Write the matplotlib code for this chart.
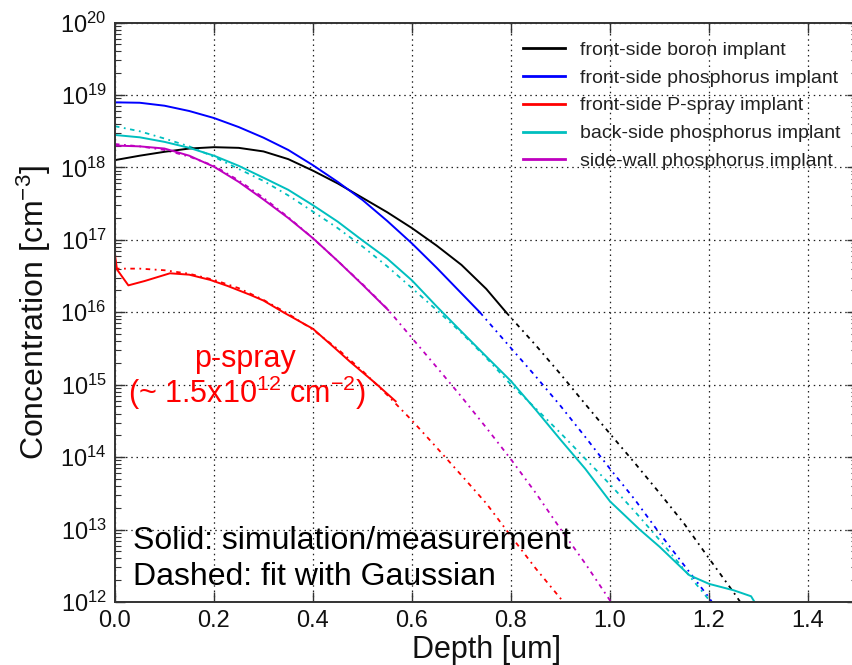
import matplotlib
matplotlib.use("Agg")
import matplotlib.pyplot as plt
from matplotlib.ticker import LogLocator, FixedLocator

plt.rcParams["font.family"] = ["Liberation Sans", "DejaVu Sans"]
plt.rcParams["mathtext.default"] = "regular"
plt.rcParams["mathtext.fontset"] = "custom"
plt.rcParams["mathtext.rm"] = "Liberation Sans"
plt.rcParams["mathtext.it"] = "Liberation Sans:italic"

# ---- data: depth [um] and concentration [cm^-3] ----
labels = [
    "front-side boron implant",
    "front-side phosphorus implant",
    "front-side P-spray implant",
    "back-side phosphorus implant",
    "side-wall phosphorus implant",
]
colors = ["#000000", "#0000ff", "#ff0000", "#00bfbf", "#bf00bf"]

boron_x = [0, 0.05, 0.1, 0.15, 0.2, 0.25, 0.3, 0.35, 0.4, 0.45, 0.5, 0.55, 0.6, 0.65, 0.7, 0.75, 0.79]
boron_sim = [1.26e18, 1.45e18, 1.64e18, 1.82e18, 1.9e18, 1.86e18, 1.66e18, 1.3e18, 9.0e17, 6.0e17,
             3.8e17, 2.4e17, 1.45e17, 8.3e16, 4.5e16, 2.1e16, 1.0e16]
boron_fit_x = [0.79, 0.85, 0.9, 0.95, 1.0, 1.05, 1.1, 1.15, 1.2, 1.25, 1.28]
boron_fit = [1.0e16, 3.5e15, 1.4e15, 5.4e14, 2.1e14, 8.3e13, 3.2e13, 1.2e13, 4.0e12, 1.35e12, 6.8e11]

phos_x = [0, 0.05, 0.1, 0.15, 0.2, 0.25, 0.3, 0.35, 0.4, 0.45, 0.5, 0.55, 0.6, 0.65, 0.7, 0.737]
phos_sim = [7.9e18, 7.8e18, 7.1e18, 6.0e18, 4.8e18, 3.6e18, 2.57e18, 1.74e18, 1.07e18, 6.3e17,
            3.55e17, 1.82e17, 8.9e16, 4.1e16, 1.82e16, 1.0e16]
phos_fit_x = [0.737, 0.8, 0.85, 0.9, 0.95, 1.0, 1.05, 1.1, 1.15, 1.2, 1.22]
phos_fit = [1.0e16, 3.2e15, 1.3e15, 5.1e14, 1.9e14, 6.9e13, 2.6e13, 8.9e12, 3.2e12, 1.15e12, 7.2e11]

pspray_x = [0, 0.004, 0.027, 0.06, 0.111, 0.15, 0.192, 0.228, 0.273, 0.3, 0.34, 0.4, 0.45, 0.474, 0.526, 0.567]
pspray_sim = [6.2e16, 3.9e16, 2.35e16, 2.7e16, 3.45e16, 3.3e16, 2.8e16, 2.3e16, 1.74e16, 1.45e16,
              1.0e16, 5.9e15, 2.95e15, 2.1e15, 1.05e15, 5.9e14]
pspray_fit_x = [0, 0.05, 0.1, 0.15, 0.2, 0.25, 0.3, 0.35, 0.4, 0.45, 0.5, 0.55, 0.6, 0.65, 0.7,
                0.75, 0.8, 0.85, 0.9, 0.92]
pspray_fit = [4.0e16, 4.0e16, 3.8e16, 3.4e16, 2.8e16, 2.15e16, 1.48e16, 9.5e15, 5.75e15, 3.1e15,
              1.55e15, 7.2e14, 3.2e14, 1.35e14, 5.6e13, 2.3e13, 8.1e12, 2.9e12, 1.12e12, 7.1e11]

back_x = [0, 0.05, 0.1, 0.15, 0.2, 0.25, 0.3, 0.35, 0.4, 0.45, 0.5, 0.55, 0.6, 0.65, 0.7, 0.75,
          0.8, 0.85, 0.9, 0.95, 1.0, 1.06, 1.1, 1.16, 1.2, 1.25, 1.285, 1.292]
back_sim = [2.8e18, 2.6e18, 2.25e18, 1.86e18, 1.45e18, 1.05e18, 7.2e17, 4.9e17, 3.0e17, 1.78e17,
            9.8e16, 5.5e16, 2.75e16, 1.2e16, 5.4e15, 2.45e15, 1.12e15, 4.5e14, 1.74e14, 6.9e13,
            2.45e13, 1.0e13, 5.8e12, 2.35e12, 1.78e12, 1.45e12, 1.2e12, 1.0e12]
back_fit_x = [0, 0.05, 0.1, 0.15, 0.2, 0.25, 0.3, 0.35, 0.4, 0.45, 0.5, 0.55, 0.6, 0.65, 0.7,
              0.75, 0.8, 0.85, 0.9, 0.95, 1.0, 1.05, 1.1, 1.15, 1.2, 1.22]
back_fit = [3.7e18, 3.15e18, 2.5e18, 1.95e18, 1.4e18, 9.5e17, 6.5e17, 4.1e17, 2.45e17, 1.45e17,
            8.1e16, 4.3e16, 2.15e16, 1.07e16, 5.2e15, 2.35e15, 1.0e15, 4.7e14, 2.15e14, 9.5e13,
            4.2e13, 1.78e13, 7.2e12, 2.8e12, 1.07e12, 7.1e11]

wall_x = [0, 0.05, 0.1, 0.15, 0.2, 0.25, 0.3, 0.35, 0.4, 0.45, 0.5, 0.552]
wall_sim = [2.0e18, 1.95e18, 1.82e18, 1.45e18, 1.02e18, 6.3e17, 3.6e17, 2.0e17, 1.05e17, 5.1e16,
            2.4e16, 1.07e16]
wall_fit_x = [0, 0.05, 0.1, 0.15, 0.2, 0.25, 0.3, 0.35, 0.4, 0.45, 0.5, 0.55, 0.6, 0.65, 0.7,
              0.75, 0.8, 0.85, 0.9, 0.95, 1.0, 1.02]
wall_fit = [2.1e18, 1.95e18, 1.74e18, 1.41e18, 1.05e18, 6.6e17, 3.8e17, 2.05e17, 1.05e17, 5.1e16,
            2.45e16, 1.12e16, 4.4e15, 1.74e15, 6.8e14, 2.55e14, 9.3e13, 3.2e13, 1.02e13, 3.4e12,
            1.05e12, 6.6e11]

sim_series = [(boron_x, boron_sim), (phos_x, phos_sim), (pspray_x, pspray_sim),
              (back_x, back_sim), (wall_x, wall_sim)]
fit_series = [(boron_fit_x, boron_fit), (phos_fit_x, phos_fit), (pspray_fit_x, pspray_fit),
              (back_fit_x, back_fit), (wall_fit_x, wall_fit)]

x_ticks = [0.0, 0.2, 0.4, 0.6, 0.8, 1.0, 1.2, 1.4]

# ---- figure ----
W, H = 853, 665
fig = plt.figure(figsize=(W / 100, H / 100), dpi=100)
ax = fig.add_axes([115 / W, 1 - 602 / H, (857.5 - 115) / W, (602 - 22.5) / H])


def fx(px):
    return px / W


def fy(py):
    return 1 - py / H


dash_pattern = (0, (2.5, 2.5, 1.0, 2.5))
for (fxs, fys), c in zip(fit_series, colors):
    ax.plot(fxs, fys, color=c, lw=1.3, linestyle=dash_pattern)
for (sx, sy), c, lab in zip(sim_series, colors, labels):
    ax.plot(sx, sy, color=c, lw=1.4, label=lab)

ax.set_yscale("log")
ax.set_xlim(0, 1.5)
ax.set_ylim(1e12, 1e20)
ax.xaxis.set_major_locator(FixedLocator(x_ticks))
ax.set_xticklabels([f"{t:.1f}" for t in x_ticks])
ax.yaxis.set_major_locator(LogLocator(base=10, numticks=20))
ax.yaxis.set_minor_locator(LogLocator(base=10, subs=range(2, 10), numticks=20))

ax.grid(True, which="major", color="#222222", linestyle=(0, (1.2, 3.0)), lw=0.9)
ax.tick_params(which="both", direction="in", top=True, right=True, colors="#333333",
               labelcolor="#111111")
ax.tick_params(which="major", length=7, width=1.0, labelsize=17, pad=6)
ax.tick_params(which="minor", length=4, width=0.8)
for sp in ax.spines.values():
    sp.set_color("#333333")
    sp.set_linewidth(1.4)

ax.set_xlabel("Depth [um]", fontsize=22, color="#111111", labelpad=2)
ax.set_ylabel("Concentration [cm$^{-3}$]", fontsize=23, color="#111111", labelpad=5)

leg = ax.legend(loc="upper left", bbox_to_anchor=(fx(523), fy(41)), bbox_transform=fig.transFigure,
                frameon=False, fontsize=14, handlelength=2.15, handletextpad=0.77,
                labelspacing=0.53, borderpad=0, borderaxespad=0)
for t in leg.get_texts():
    t.set_color("#222222")
for h in leg.get_lines():
    h.set_linewidth(2.0)

ax.text(fx(245), fy(367), "p-spray", transform=fig.transFigure, color="#ff0000",
        fontsize=22, ha="center", va="baseline")
ax.text(fx(247), fy(403), "(~ 1.5x10$^{12}$ cm$^{-2}$)", transform=fig.transFigure,
        color="#ff0000", fontsize=22, ha="center", va="baseline")

ax.text(fx(133), fy(549), "Solid: simulation/measurement", transform=fig.transFigure,
        color="#000000", fontsize=23, ha="left", va="baseline")
ax.text(fx(133), fy(585), "Dashed: fit with Gaussian", transform=fig.transFigure,
        color="#000000", fontsize=23, ha="left", va="baseline")

fig.savefig("out.png", dpi=100)
